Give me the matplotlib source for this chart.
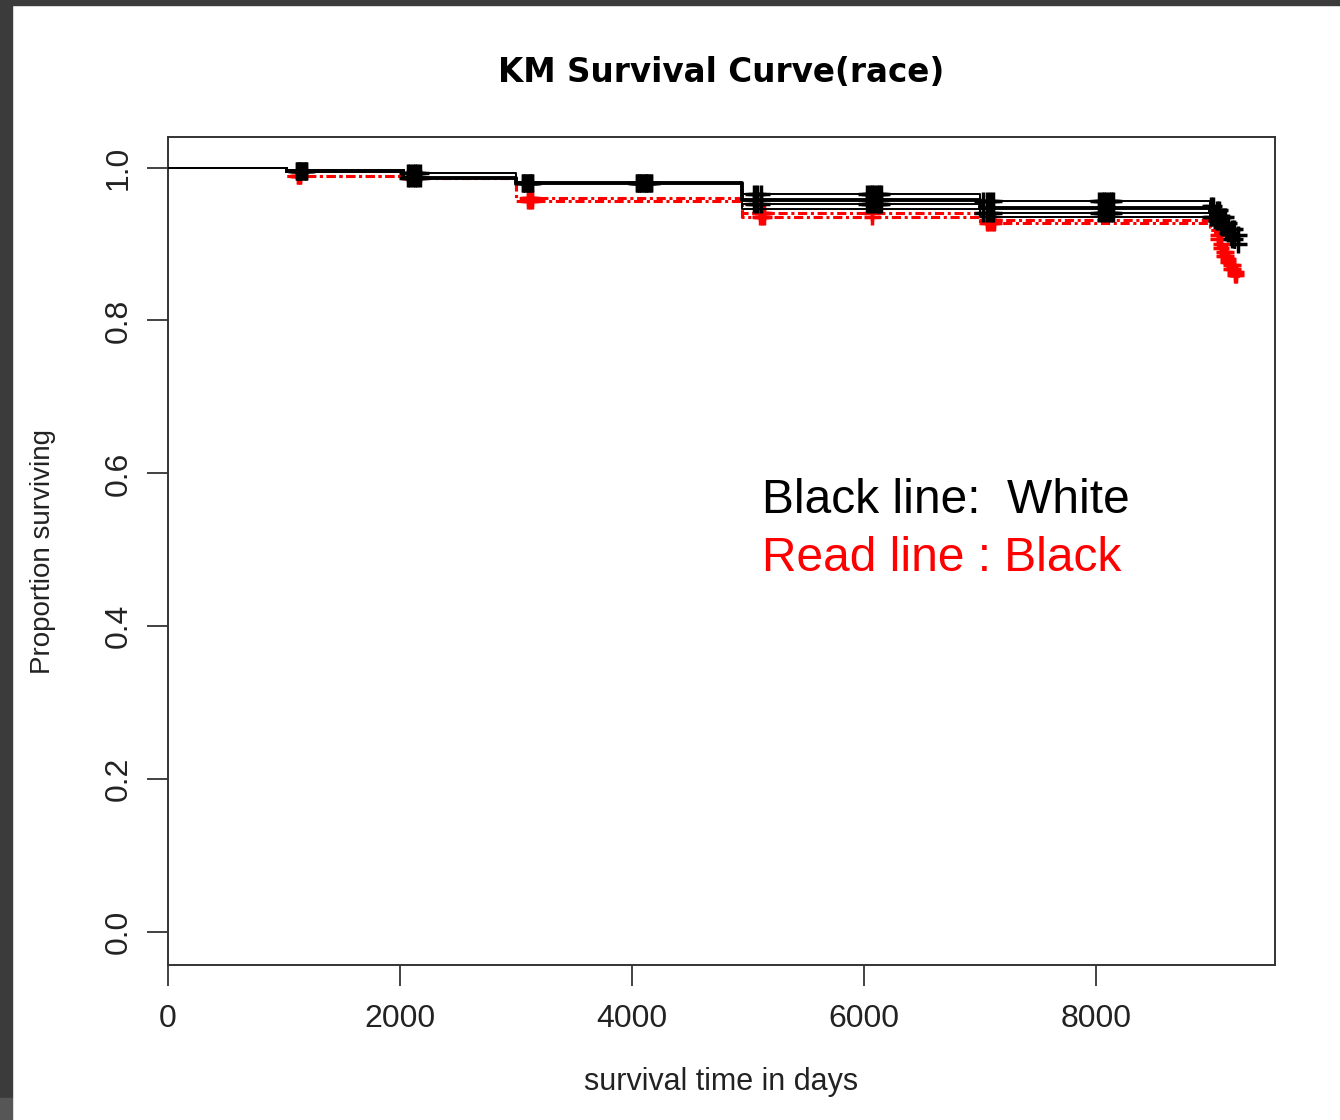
import numpy as np
import matplotlib
matplotlib.use('Agg')
import matplotlib.pyplot as plt
import matplotlib.patches as mpatches

# step times (days) shared by all curves
step_times = [0, 1030, 2030, 3000, 4950, 7000, 8980, 9030, 9080, 9120, 9160, 9200]

# black group (White): estimate + band lines
white_curves = [
    [1.0, 0.995, 0.993, 0.980, 0.965, 0.956, 0.950, 0.944, 0.936, 0.928, 0.920, 0.912],
    [1.0, 0.995, 0.987, 0.980, 0.958, 0.947, 0.942, 0.936, 0.928, 0.920, 0.912, 0.905],
    [1.0, 0.995, 0.987, 0.980, 0.953, 0.941, 0.936, 0.930, 0.922, 0.914, 0.906, 0.900],
    [1.0, 0.995, 0.987, 0.980, 0.946, 0.936, 0.930, 0.924, 0.916, 0.908, 0.900, 0.895],
]
white_main = 1

# red group (Black)
black_times = [0, 1030, 2030, 3000, 4950, 7000, 8980, 9030, 9070, 9100, 9130, 9160, 9190, 9220]
black_curves = [
    [1.0, 0.989, 0.987, 0.960, 0.940, 0.932, 0.922, 0.912, 0.900, 0.890, 0.880, 0.872, 0.864, 0.858],
    [1.0, 0.989, 0.987, 0.956, 0.935, 0.928, 0.918, 0.907, 0.895, 0.885, 0.876, 0.868, 0.860, 0.852],
]

# censoring times (clusters of + marks)
white_censor = [1110, 1130, 1150, 1170, 1190, 2070, 2090, 2110, 2130, 2150, 2170,
                3060, 3080, 3100, 3120, 3140, 4040, 4060, 4080, 4100, 4120, 4140, 4160,
                5050, 5080, 5110, 6030, 6050, 6070, 6090, 6110, 6130, 6150,
                7030, 7060, 7090, 7110, 8030, 8050, 8070, 8090, 8110, 8130, 8150,
                8990, 9010, 9040, 9060, 9090, 9110, 9140, 9170, 9190, 9220]
black_censor = [1120, 1140, 2090, 2110, 3100, 3120, 3140, 5100, 5120, 5140,
                6070, 7060, 7080, 7100, 7120, 9050, 9080, 9100, 9120, 9140, 9160, 9180, 9200, 9210]


def level_at(times, values, t):
    idx = np.searchsorted(times, t, side='right') - 1
    return values[idx]


fig = plt.figure(figsize=(13.4, 11.2), dpi=100)
ax = fig.add_axes([168 / 1340, 155 / 1120, 1107 / 1340, 828 / 1120])

# dark screenshot border
fig.patches.append(mpatches.Rectangle((0, 1 - 5 / 1120), 1, 5 / 1120, transform=fig.transFigure,
                                      color='#3b3b3b', zorder=0))
fig.patches.append(mpatches.Rectangle((0, 22 / 1120), 12 / 1340, 1, transform=fig.transFigure,
                                      color='#3b3b3b', zorder=0))
fig.patches.append(mpatches.Rectangle((0, 0), 12 / 1340, 22 / 1120, transform=fig.transFigure,
                                      color='#565656', zorder=0))

for i, vals in enumerate(white_curves):
    ax.step(step_times, vals, where='post', color='black', lw=1.4, zorder=3)
# thicker estimate line from first event on
ax.step(step_times[1:], white_curves[white_main][1:], where='post', color='black', lw=2.8, zorder=3)
ax.step(step_times[1:3], [0.995, 0.995], where='post', color='black', lw=2.8, zorder=3)

for vals in black_curves:
    ax.step(black_times[1:], vals[1:], where='post', color='red', lw=2.2,
            linestyle=(0, (3, 1.2, 1, 1.2)), zorder=2)

for t in white_censor:
    for vals in white_curves[::2]:
        ax.plot(t, level_at(step_times, vals, t), marker='+', color='black',
                ms=13, mew=2.5, zorder=4)
for t in black_censor:
    for vals in black_curves:
        ax.plot(t, level_at(black_times, vals, t), marker='+', color='red',
                ms=12, mew=2.5, zorder=2.5)

ax.set_xlim(0, 9543)
ax.set_ylim(-0.043, 1.04)
ax.set_xticks([0, 2000, 4000, 6000, 8000])
ax.set_yticks([0.0, 0.2, 0.4, 0.6, 0.8, 1.0])
ax.set_yticklabels(['0.0', '0.2', '0.4', '0.6', '0.8', '1.0'], rotation=90, va='center')
ax.tick_params(axis='both', length=15, width=1.3, color='#333333', labelsize=23,
               labelcolor='#222222')
ax.tick_params(axis='x', pad=13)
ax.tick_params(axis='y', pad=10)
for lab in ax.get_xticklabels() + ax.get_yticklabels():
    lab.set_family('Liberation Sans')
for s in ax.spines.values():
    s.set_linewidth(1.4)
    s.set_color('#333333')

ax.set_xlabel('survival time in days', fontsize=22, family='Liberation Sans', labelpad=24,
              color='#222222')
ax.set_ylabel('Proportion surviving', fontsize=20, family='Liberation Sans', labelpad=34,
              color='#222222')
fig.text(721 / 1340, 1 - 73 / 1120, 'KM Survival Curve(race)', ha='center', va='center',
         fontsize=23.5, fontweight='bold', family='DejaVu Sans')

ax.text(5120, 0.564, 'Black line:  White', fontsize=34.5, family='Liberation Sans', color='black',
        va='center')
ax.text(5120, 0.489, 'Read line : Black', fontsize=34.5, family='Liberation Sans', color='red',
        va='center')

fig.savefig('out.png', dpi=100, facecolor='white')
